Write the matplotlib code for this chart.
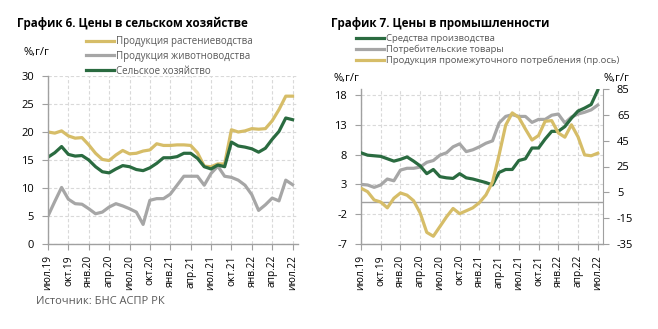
import numpy as np
import matplotlib
matplotlib.use("Agg")
import matplotlib.pyplot as plt
from matplotlib.lines import Line2D

plt.rcParams['font.family'] = ['Open Sans', 'DejaVu Sans']
plt.rcParams['axes.unicode_minus'] = False

# monthly, y/y %, Jul 2019 .. Jul 2022
months = np.arange(37)
quarter_labels = ['июл.19', 'окт.19', 'янв.20', 'апр.20', 'июл.20', 'окт.20', 'янв.21',
                  'апр.21', 'июл.21', 'окт.21', 'янв.22', 'апр.22', 'июл.22']

# chart 6: agriculture
crops = [20.0, 19.8, 20.2, 19.3, 18.9, 19.0, 17.7, 16.2, 15.1, 14.9, 15.9, 16.7, 16.1,
         16.2, 16.6, 16.8, 17.9, 17.6, 17.6, 17.7, 17.7, 17.6, 16.3, 13.9, 13.8, 14.3,
         14.3, 20.4, 20.0, 20.2, 20.6, 20.5, 20.6, 22.0, 24.0, 26.4, 26.4]
livestock = [5.0, 7.6, 10.1, 8.0, 7.2, 7.1, 6.3, 5.4, 5.7, 6.6, 7.2, 6.8, 6.3,
             5.7, 3.5, 7.8, 8.1, 8.1, 8.9, 10.5, 12.1, 12.1, 12.1, 10.5, 12.6, 13.9,
             12.1, 11.9, 11.4, 10.5, 8.8, 6.0, 7.0, 8.2, 7.7, 11.4, 10.6]
agriculture = [15.5, 16.3, 17.4, 16.0, 15.7, 15.8, 15.0, 13.8, 12.9, 12.7, 13.4, 14.0, 13.8,
               13.3, 13.1, 13.6, 14.4, 15.4, 15.4, 15.6, 16.2, 16.2, 15.3, 13.8, 13.4, 14.1,
               13.8, 18.2, 17.5, 17.3, 17.0, 16.4, 17.1, 18.7, 20.1, 22.5, 22.2]

# chart 7: industry
capital_goods = [8.3, 7.9, 7.8, 7.7, 7.3, 6.9, 7.2, 7.6, 6.9, 6.1, 4.8, 5.5, 4.3,
                 4.1, 4.0, 4.8, 4.1, 3.9, 3.6, 3.3, 2.9, 5.0, 5.5, 5.5, 7.0, 7.3,
                 9.1, 9.1, 10.6, 11.9, 11.9, 12.7, 14.1, 15.3, 15.8, 16.4, 18.8]
consumer_goods = [3.0, 2.9, 2.5, 2.9, 3.9, 3.6, 5.4, 5.7, 5.7, 5.9, 6.7, 7.0, 7.9,
                  8.3, 9.3, 9.8, 8.5, 8.8, 9.3, 9.9, 10.3, 13.3, 14.4, 14.7, 14.4, 14.4,
                  13.4, 13.9, 13.9, 14.6, 14.8, 13.3, 14.3, 14.8, 15.1, 15.5, 16.3]
intermediate = [8.2, 5.5, -0.9, -2.5, -7.0, 0.4, 4.5, 2.8, -1.5, -11.0, -26.0, -29.0, -21.5,
                -14.0, -7.5, -11.5, -9.3, -7.0, -3.0, 3.0, 13.0, 34.0, 57.0, 66.5, 63.0,
                54.0, 45.5, 49.0, 60.0, 60.5, 51.0, 47.7, 57.3, 48.0, 34.0, 33.3, 35.3]

GREEN = '#2a6b40'
GOLD = '#d6bd68'
GRAY = '#a6a6a6'
TXT = '#595959'
SPINE = '#a0a0a0'
LW = 2.3

W, H = 658, 329
fig = plt.figure(figsize=(W / 100, H / 100), dpi=100)


def px_axes(x0, y0, x1, y1):
    return fig.add_axes([x0 / W, 1 - y1 / H, (x1 - x0) / W, (y1 - y0) / H])


def style_axes(ax, yticks):
    ax.set_xlim(0, 36.8)
    ax.set_xticks(months[::3])
    ax.set_xticklabels(quarter_labels, rotation=90, fontsize=7.3)
    ax.set_yticks(yticks)
    ax.tick_params(axis='y', labelsize=8, length=4, width=0.8, color=SPINE, pad=6)
    ax.tick_params(axis='x', length=4, width=0.8, color=SPINE, pad=4)
    ax.grid(True, color='#d9d9d9', lw=0.8, ls=(0, (3, 2)))
    ax.set_axisbelow(True)
    for s in ['top', 'right']:
        ax.spines[s].set_visible(False)
    for s in ['left', 'bottom']:
        ax.spines[s].set_color(SPINE)
        ax.spines[s].set_linewidth(1.0)


# ---- chart 6
ax1 = px_axes(48, 76, 298, 244)
ax1.plot(months, crops, color=GOLD, lw=LW)
ax1.plot(months, livestock, color=GRAY, lw=LW)
ax1.plot(months, agriculture, color=GREEN, lw=LW)
ax1.set_ylim(0, 30)
style_axes(ax1, np.arange(0, 31, 5))

fig.text(17 / W, 1 - 23 / H, 'График 6. Цены в сельском хозяйстве',
         fontsize=8.4, fontweight='bold', va='center', ha='left')
fig.text(24 / W, 1 - 52 / H, '%,г/г', fontsize=8, va='center', ha='left')

h1 = [Line2D([], [], color=c, lw=LW) for c in (GOLD, GRAY, GREEN)]
fig.legend(h1, ['Продукция растениеводства', 'Продукция животноводства', 'Сельское хозяйство'],
           loc='upper left', bbox_to_anchor=(86 / W, 1 - 36 / H), frameon=False,
           fontsize=7, handlelength=2.9, handletextpad=0.15, labelspacing=0.4,
           borderpad=0, borderaxespad=0, labelcolor=TXT)

# ---- chart 7
ax2 = px_axes(361, 89, 603, 244)
ax2.plot(months, consumer_goods, color=GRAY, lw=LW, zorder=3)
ax2.plot(months, capital_goods, color=GREEN, lw=LW, zorder=4)
ax2.axhline(0, color=SPINE, lw=1.0, zorder=2)
ax2.set_ylim(-7, 19)
style_axes(ax2, np.arange(-7, 19, 5))

ax3 = ax2.twinx()
ax3.plot(months, intermediate, color=GOLD, lw=LW)
ax3.set_ylim(-35, 85)
ax3.set_yticks(np.arange(-35, 86, 20))
ax3.tick_params(axis='y', labelsize=8, length=4, width=0.8, color=SPINE, pad=6)
for s in ['top', 'left', 'bottom']:
    ax3.spines[s].set_visible(False)
ax3.spines['right'].set_color(SPINE)

fig.text(331 / W, 1 - 23 / H, 'График 7. Цены в промышленности',
         fontsize=8.4, fontweight='bold', va='center', ha='left')
fig.text(334 / W, 1 - 78 / H, '%,г/г', fontsize=8, va='center', ha='left')
fig.text(604 / W, 1 - 78 / H, '%,г/г', fontsize=8, va='center', ha='left')

h2 = [Line2D([], [], color=c, lw=LW) for c in (GREEN, GRAY, GOLD)]
fig.legend(h2, ['Средства производства', 'Потребительские товары',
                'Продукция промежуточного потребления (пр.ось)'],
           loc='upper left', bbox_to_anchor=(356 / W, 1 - 34 / H), frameon=False,
           fontsize=6.8, handlelength=3.0, handletextpad=0.15, labelspacing=0.2,
           borderpad=0, borderaxespad=0, labelcolor=TXT)

fig.text(36 / W, 1 - 302 / H, 'Источник: БНС АСПР РК', fontsize=8, color=TXT,
         va='center', ha='left')

fig.savefig('out.png', dpi=100)
